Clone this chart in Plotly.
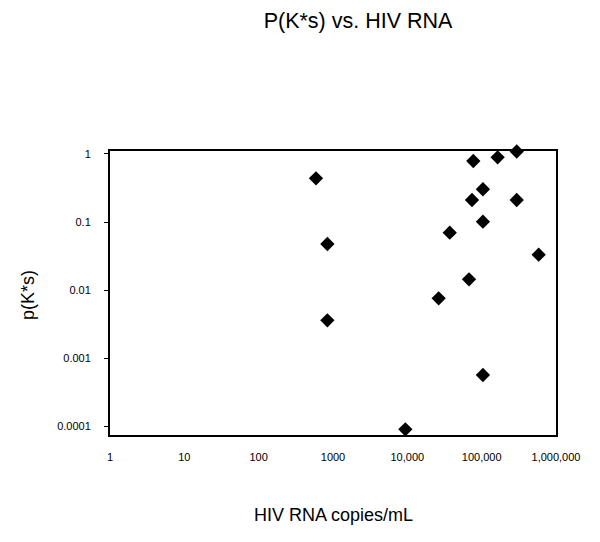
import plotly.graph_objects as go

# HIV RNA copies/mL and p(K*s)
rna_copies = [590, 840, 840, 9400, 26400, 37200, 67600, 74100,
              77200, 104000, 104000, 104000, 164000, 296000, 296000, 585000]
p_ks = [0.437, 0.0476, 0.00362, 0.0000912, 0.0076, 0.0697, 0.01445, 0.21,
        0.784, 0.302, 0.101, 0.000571, 0.888, 1.08, 0.21, 0.0332]

x_tickvals = [1, 10, 100, 1000, 10000, 100000, 1000000]
x_ticktext = ['1', '10', '100', '1000', '10,000', '100,000', '1,000,000']
y_tickvals = [1, 0.1, 0.01, 0.001, 0.0001]
y_ticktext = ['1', '0.1', '0.01', '0.001', '0.0001']

FONT = 'Liberation Sans, Arial, sans-serif'

# the page body has an 8px margin, so the margins are shifted by that much
fig = go.Figure(go.Scatter(
    x=rna_copies,
    y=p_ks,
    mode='markers',
    marker=dict(symbol='diamond', size=11, color='black'),
    cliponaxis=False,
))

fig.update_layout(
    width=600,
    height=542,
    margin=dict(l=102, r=52, t=143, b=115),
    paper_bgcolor='white',
    plot_bgcolor='white',
    showlegend=False,
    font=dict(family=FONT, color='black'),
    title=dict(
        text='P(K*s) vs. HIV RNA',
        font=dict(size=21.5, family=FONT, color='black'),
        x=350 / 600, xanchor='center',
        y=1 - 12 / 542, yanchor='middle', yref='container',
    ),
)

fig.update_xaxes(
    type='log',
    range=[0, 6],
    tickvals=x_tickvals,
    ticktext=x_ticktext,
    tickfont=dict(size=11),
    ticks='',
    ticklabelstandoff=11,
    showgrid=False,
    zeroline=False,
    showline=True, mirror=True, linecolor='black', linewidth=2,
)

fig.update_yaxes(
    type='log',
    range=[-4.123, 0.041],
    tickvals=y_tickvals,
    ticktext=y_ticktext,
    tickfont=dict(size=11),
    ticks='outside', ticklen=4, tickcolor='black', tickwidth=1,
    ticklabelstandoff=11,
    showgrid=False,
    zeroline=False,
    showline=True, mirror=True, linecolor='black', linewidth=2,
)

fig.add_annotation(
    text='HIV RNA copies/mL', xref='paper', yref='paper',
    x=0.5, y=-(515 - 435) / 284, xanchor='center', yanchor='middle',
    showarrow=False, font=dict(size=18),
)
fig.add_annotation(
    text='p(K*s)', xref='paper', yref='paper',
    x=-(110 - 28) / 446, y=(435 - 295) / 284, xanchor='center', yanchor='middle',
    textangle=-90, showarrow=False, font=dict(size=18),
)

fig.write_html("out.html")
